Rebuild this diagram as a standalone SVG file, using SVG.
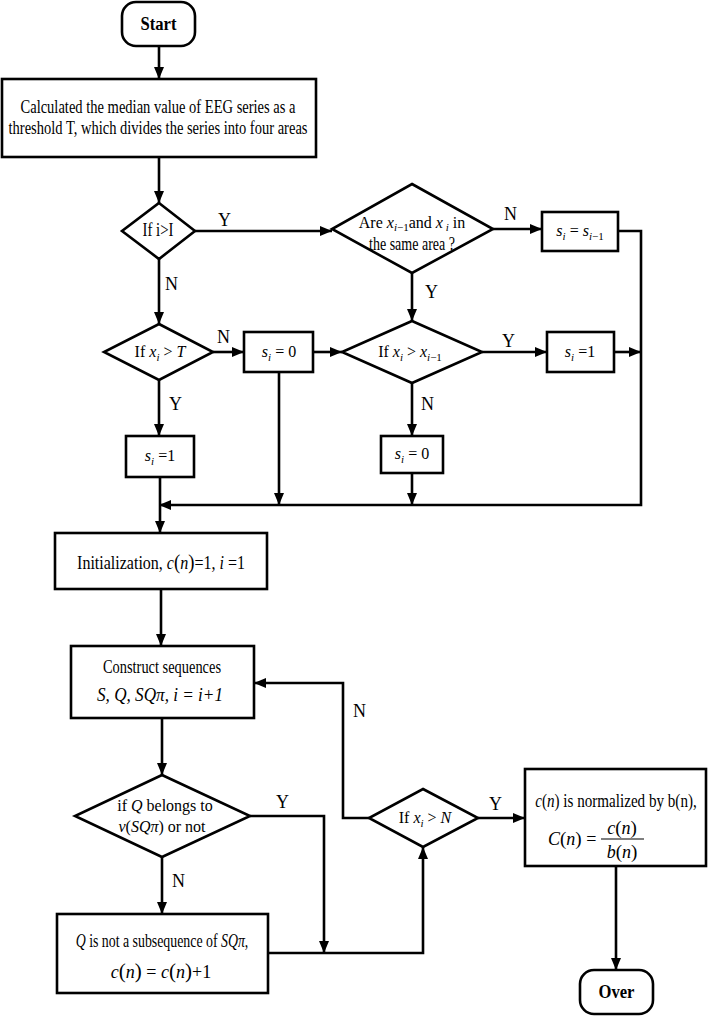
<svg xmlns="http://www.w3.org/2000/svg" width="708" height="1016" viewBox="0 0 708 1016">
<style>
.s{fill:#fff;stroke:#000;stroke-width:2.6}
.c{fill:none;stroke:#000;stroke-width:2.6}
text{font-family:"Liberation Serif","Times New Roman",serif;font-size:18px;fill:#000}
.m{text-anchor:middle}
.b{font-weight:bold}
.i{font-style:italic}
.sb{font-size:11px}
.f{font-size:16px}
</style>
<defs>
<marker id="a" markerUnits="userSpaceOnUse" markerWidth="12" markerHeight="10" refX="12" refY="5" orient="auto">
<path d="M0,0 L12,5 L0,10 z" fill="#000"/>
</marker>
</defs>
<rect width="708" height="1016" fill="#fff"/>
<g id="connectors" class="c" marker-end="url(#a)">
<path d="M159,46 V79"/>
<path d="M159,157 V203"/>
<path d="M195,231 H332"/>
<path d="M493,229 H542"/>
<path d="M618,231 H641 V505 H159"/>
<path d="M412,273 V321"/>
<path d="M159,259 V324"/>
<path d="M213,352 H244"/>
<path d="M313,352 H342"/>
<path d="M482,352 H547"/>
<path d="M614,352 H641"/>
<path d="M412,383 V436"/>
<path d="M412,473 V505"/>
<path d="M279,372 V505"/>
<path d="M159,380 V436"/>
<path d="M160,477 V533"/>
<path d="M161,589 V646"/>
<path d="M162,718 V775"/>
<path d="M162,857 V914"/>
<path d="M250,816 H324 V953"/>
<path d="M268,953 H423 V847"/>
<path d="M478,818 H525"/>
<path d="M369,818 H343 V683 H254"/>
<path d="M616,866 V970"/>
</g>
<g id="labels">
<text x="218" y="226">Y</text>
<text x="165" y="290">N</text>
<text x="504" y="220">N</text>
<text x="425" y="298">Y</text>
<text x="217" y="343">N</text>
<text x="169" y="410">Y</text>
<text x="502" y="347">Y</text>
<text x="421" y="410">N</text>
<text x="276" y="808">Y</text>
<text x="172" y="887">N</text>
<text x="353" y="717">N</text>
<text x="489" y="810">Y</text>
</g>
<g id="start">
<rect class="s" x="122" y="2" width="73" height="44" rx="14"/>
<text class="m b" x="158.5" y="30" textLength="36" lengthAdjust="spacingAndGlyphs">Start</text>
</g>
<g id="median">
<rect class="s" x="2" y="79" width="314" height="78"/>
<text class="m" x="158" y="113" textLength="275" lengthAdjust="spacingAndGlyphs">Calculated the median value of EEG series as a</text>
<text class="m" x="158" y="134" textLength="299" lengthAdjust="spacingAndGlyphs">threshold T, which divides the series into four areas</text>
</g>
<g id="if-i">
<polygon class="s" points="159,203 195,231 159,259 122,231"/>
<text class="m" x="158" y="236" font-size="17" textLength="31" lengthAdjust="spacingAndGlyphs">If i&gt;I</text>
</g>
<g id="same-area">
<polygon class="s" points="412,184 493,229 412,273 332,229"/>
<text class="m f" x="412" y="228">Are <tspan class="i">x</tspan><tspan class="sb i" dy="3">i</tspan><tspan class="sb">−1</tspan><tspan dy="-3">and </tspan><tspan class="i">x</tspan><tspan class="sb i" dy="3"> i</tspan><tspan dy="-3"> in</tspan></text>
<text class="m" x="412" y="250" font-size="16" textLength="86" lengthAdjust="spacingAndGlyphs">the same area ?</text>
</g>
<g id="s-prev">
<rect class="s" x="542" y="212" width="76" height="39"/>
<text class="m f" x="580" y="236"><tspan class="i">s</tspan><tspan class="sb i" dy="4">i</tspan><tspan dy="-4"> = </tspan><tspan class="i">s</tspan><tspan class="sb i" dy="4">i</tspan><tspan class="sb">−1</tspan></text>
</g>
<g id="if-xT">
<polygon class="s" points="159,324 213,352 159,380 104,352"/>
<text class="m f" x="160" y="357">If <tspan class="i">x</tspan><tspan class="sb i" dy="4">i</tspan><tspan dy="-4"> &gt; </tspan><tspan class="i">T</tspan></text>
</g>
<g id="s0-left">
<rect class="s" x="244" y="332" width="69" height="40"/>
<text class="m f" x="279" y="357"><tspan class="i">s</tspan><tspan class="sb i" dy="4">i</tspan><tspan dy="-4"> = 0</tspan></text>
</g>
<g id="if-xprev">
<polygon class="s" points="412,321 482,352 412,383 342,352"/>
<text class="m f" x="410" y="357">If  <tspan class="i">x</tspan><tspan class="sb i" dy="4">i</tspan><tspan dy="-4"> &gt; </tspan><tspan class="i">x</tspan><tspan class="sb i" dy="4">i</tspan><tspan class="sb">−1</tspan></text>
</g>
<g id="s1-right">
<rect class="s" x="547" y="332" width="67" height="40"/>
<text class="m f" x="580" y="357"><tspan class="i">s</tspan><tspan class="sb i" dy="4">i</tspan><tspan dy="-4"> =1</tspan></text>
</g>
<g id="s0-mid">
<rect class="s" x="381" y="436" width="62" height="37"/>
<text class="m f" x="412" y="459"><tspan class="i">s</tspan><tspan class="sb i" dy="4">i</tspan><tspan dy="-4"> = 0</tspan></text>
</g>
<g id="s1-left">
<rect class="s" x="126" y="436" width="68" height="41"/>
<text class="m f" x="160" y="461"><tspan class="i">s</tspan><tspan class="sb i" dy="4">i</tspan><tspan dy="-4"> =1</tspan></text>
</g>
<g id="init">
<rect class="s" x="55" y="533" width="212" height="56"/>
<text class="m" transform="translate(161,569) scale(0.89,1)" x="0" y="0" font-size="17">Initialization,  <tspan class="i">c</tspan><tspan font-size="21">(</tspan><tspan class="i">n</tspan><tspan font-size="21">)</tspan>=1, <tspan class="i">i</tspan> =1</text>
</g>
<g id="construct">
<rect class="s" x="71" y="646" width="183" height="72"/>
<text class="m" x="162" y="673" textLength="118" lengthAdjust="spacingAndGlyphs">Construct sequences</text>
<text class="m i" x="160" y="701" textLength="126" lengthAdjust="spacingAndGlyphs">S, Q, SQπ,  i = i+1</text>
</g>
<g id="belongs">
<polygon class="s" points="162,775 250,816 162,857 75,816"/>
<text class="m f" x="165" y="811">if <tspan class="i">Q</tspan> belongs to</text>
<text class="m f" x="162" y="832"><tspan class="i">ν</tspan>(<tspan class="i">SQπ</tspan>) or not</text>
</g>
<g id="not-sub">
<rect class="s" x="57" y="914" width="211" height="79"/>
<text class="m" transform="translate(162,947) scale(0.77,1)" x="0" y="0" font-size="16"><tspan class="i">Q</tspan> is not a subsequence of <tspan class="i">SQπ</tspan>,</text>
<text class="m" x="161" y="978" font-size="17"><tspan class="i">c</tspan><tspan font-size="21">(</tspan><tspan class="i">n</tspan><tspan font-size="21">)</tspan> = <tspan class="i">c</tspan><tspan font-size="21">(</tspan><tspan class="i">n</tspan><tspan font-size="21">)</tspan>+1</text>
</g>
<g id="if-xN">
<polygon class="s" points="423,789 478,818 423,847 369,818"/>
<text class="m f" x="425" y="823">If  <tspan class="i">x</tspan><tspan class="sb i" dy="4">i</tspan><tspan dy="-4"> &gt; </tspan><tspan class="i">N</tspan></text>
</g>
<g id="normalize">
<rect class="s" x="525" y="769" width="181" height="97"/>
<text class="m" transform="translate(616,807) scale(0.84,1)" x="0" y="0" font-size="16"><tspan class="i">c</tspan>(<tspan class="i">n</tspan>) is normalized by b(n),</text>
<text x="548" y="845" font-size="16"><tspan class="i">C</tspan><tspan font-size="19">(</tspan><tspan class="i">n</tspan><tspan font-size="19">)</tspan> =</text>
<text class="m" x="622" y="834" font-size="16"><tspan class="i">c</tspan><tspan font-size="19">(</tspan><tspan class="i">n</tspan><tspan font-size="19">)</tspan></text>
<line x1="601" y1="839" x2="644" y2="839" stroke="#000" stroke-width="1.2"/>
<text class="m" x="622" y="858" font-size="16"><tspan class="i">b</tspan><tspan font-size="19">(</tspan><tspan class="i">n</tspan><tspan font-size="19">)</tspan></text>
</g>
<g id="over">
<rect class="s" x="580" y="970" width="73" height="44" rx="14"/>
<text class="m b" x="616.5" y="998" textLength="36" lengthAdjust="spacingAndGlyphs">Over</text>
</g>
</svg>
